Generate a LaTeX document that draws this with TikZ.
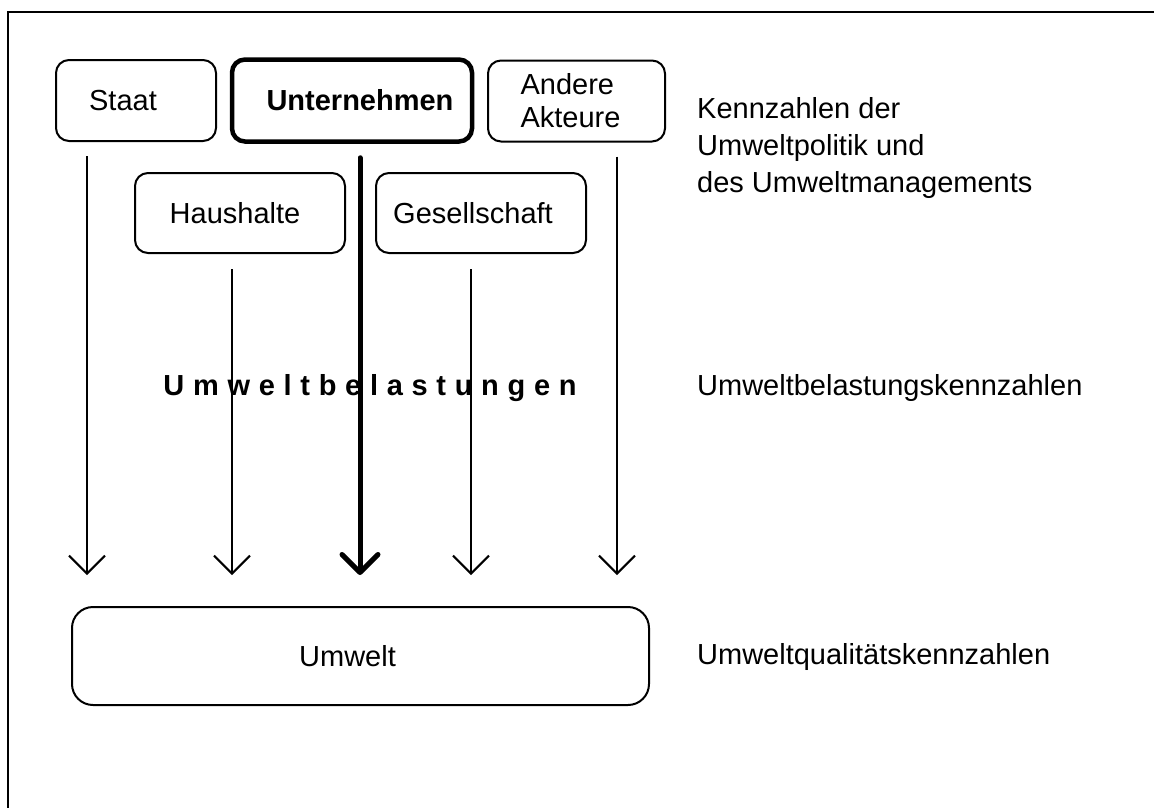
\documentclass[tikz,border=0pt]{standalone}
\usepackage{fontspec}
\setmainfont{Liberation Sans}
\usetikzlibrary{arrows.meta}
\begin{document}
\begin{tikzpicture}[x=1pt,y=-1pt,
  txt/.style={inner sep=0pt, font=\fontsize{29}{37}\selectfont},
  box/.style={draw, line width=2pt, rounded corners=13pt, inner sep=0pt,
    font=\fontsize{29}{33}\selectfont},
  keybox/.style={box, line width=4.5pt, font=\fontsize{29}{33}\selectfont\bfseries},
  flow/.style={line width=2pt, -{Straight Barb[length=18pt,width=36pt,line width=2pt]}},
  keyflow/.style={line width=5pt, line cap=round, -{Straight Barb[length=18pt,width=36pt,line width=5pt,round]}}]
\useasboundingbox (0,0) rectangle (1154,807);
\clip (0,0) rectangle (1154,807);
% outer frame, running off the right and bottom edges
\draw[line width=2.5pt] (8,840) -- (8,12) -- (1180,12);

% actors (a kern moves each label off the box centre)
\node[box, minimum width=160pt, minimum height=81pt] (staat) at (136,100.5) {\hspace*{-26pt}Staat};
\node[keybox, minimum width=240pt, minimum height=82pt] (unt) at (352,100.5) {\hspace*{16pt}Unternehmen};
\node[box, minimum width=177pt, minimum height=81pt, align=left] (andere) at (576.5,101) {\hspace*{-12pt}Andere\\\hspace*{-12pt}Akteure};
\node[box, minimum width=210pt, minimum height=80pt] (haus) at (240,213) {\hspace*{-10pt}Haushalte};
\node[box, minimum width=210pt, minimum height=80pt] (ges) at (481,213) {\hspace*{-16pt}Gesellschaft};

% environment
\node[box, rounded corners=21pt, minimum width=577pt, minimum height=98pt] (umwelt) at (360.5,656) {\hspace*{-26pt}Umwelt};

% start points of the flows
\coordinate (s1) at ([xshift=32pt,yshift=-14pt]staat.south west);
\coordinate (s2) at ([xshift=8pt,yshift=-14pt]unt.south);
\coordinate (s3) at ([xshift=-8pt,yshift=-15pt]haus.south);
\coordinate (s4) at ([xshift=-10pt,yshift=-15pt]ges.south);
\coordinate (s5) at ([xshift=40.5pt,yshift=-14pt]andere.south);

\draw[flow, shorten >=31pt] (s1) -- (s1 |- umwelt.north);
\draw[flow, shorten >=31pt] (s3) -- (s3 |- umwelt.north);
\draw[keyflow, shorten >=31pt] (s2) -- (s2 |- umwelt.north);
\draw[flow, shorten >=31pt] (s4) -- (s4 |- umwelt.north);
\draw[flow, shorten >=31pt] (s5) -- (s5 |- umwelt.north);

% pressure label across the flows
\node[txt, font=\fontsize{29}{37}\selectfont\bfseries\addfontfeature{LetterSpace=30}] (belast) at (370,388) {Umweltbelastungen};

% indicator levels
\node[txt, anchor=west, align=left] (k1) at (697,148) {Kennzahlen der\\Umweltpolitik und\\des Umweltmanagements};
\node[txt, anchor=west] (k2) at (697,388) {Umweltbelastungskennzahlen};
\node[txt, anchor=west] (k3) at (697,657) {Umweltqualitätskennzahlen};
\end{tikzpicture}
\end{document}
